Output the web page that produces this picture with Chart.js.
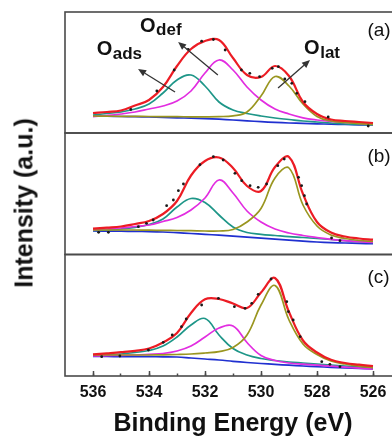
<!DOCTYPE html>
<html>
<head>
<meta charset="utf-8">
<script src="https://cdn.jsdelivr.net/npm/chart.js@4.4.1/dist/chart.umd.min.js"></script>
<style>
  html, body { margin: 0; padding: 0; background: #fff; overflow: hidden; }
  #wrap { position: relative; width: 392px; height: 437px; overflow: hidden; }
  canvas { position: absolute; left: 0; }
  #ylab {
    position: absolute; left: 24px; top: 203px;
    transform: translate(-50%, -50%) rotate(-90deg);
    font: bold 25px 'Liberation Sans', Arial, sans-serif; line-height: 25px;
    white-space: nowrap; color: #111;
  }
</style>
</head>
<body>
<div id="wrap">
  <canvas id="panelA" width="410" height="140" style="top:0px"></canvas>
  <canvas id="panelB" width="410" height="140" style="top:125px"></canvas>
  <canvas id="panelC" width="410" height="191" style="top:246px"></canvas>
  <div id="ylab">Intensity (a.u.)</div>
</div>
<script>
const FONT = "'Liberation Sans', Arial, Helvetica, sans-serif";
const FRAME = '#4a4a4a';

// binding energy grid (eV) shared by every fitted curve
const energy = [536, 535.5, 535, 534.5, 534, 533.5, 533, 532.5, 532, 531.5, 531, 530.5, 530, 529.5, 529, 528.5, 528, 527.5, 527, 526.5, 526];

// panel (a)
const aSum  = [19, 20, 21.5, 26.5, 32, 45, 66, 83, 91, 92, 74, 57, 55, 66, 56, 30, 18, 12.5, 11, 10, 9];
const aAds  = [17, 18.5, 20, 23, 28, 39, 52, 57, 46, 30, 22, 18.5, 16, 14, 12.5, 11, 10, 9, 8, 7.5, 7];
const aDef  = [15.3, 16.5, 18, 20, 23, 26, 31, 41, 59, 72, 62, 45, 32, 23, 18, 14.2, 12, 10.5, 9.5, 8.5, 7.7];
const aLat  = [16, 15.8, 15.7, 15.6, 15.5, 15.4, 15.3, 15.2, 15.2, 15.4, 16.2, 20, 36, 55.5, 46, 28, 15.5, 11, 9.5, 8.3, 7.7];
const aBack = [16, 15.8, 15.5, 15.3, 15, 14.6, 14.2, 13.8, 13.4, 12.8, 12, 11.2, 10.3, 9.6, 9, 8.6, 8.2, 7.8, 7.5, 7.2, 7];
const aRawE = [534.65, 533.72, 533.1, 532.6, 532.12, 531.7, 531.28, 530.7, 530.4, 530.05, 529.6, 529.38, 529.15, 528.9, 528.72, 528.43, 527.6, 526.17];
const aRawI = [22.5, 41, 62, 82.7, 90.8, 92.5, 82, 62, 58.7, 55.3, 63.7, 65.3, 53, 48.7, 38.7, 30.3, 15, 6];

// panel (b)
const bSum  = [25.3, 26.3, 27.5, 30, 33, 40, 53, 78.5, 93, 96.5, 86, 68, 63, 87, 97, 60, 32, 21.5, 17.5, 15.5, 14.3];
const bAds  = [23.5, 24, 25, 26.7, 29.5, 35, 47, 55.5, 51.5, 39, 27, 21.5, 19.7, 18.5, 17.3, 16.5, 15.5, 14.5, 13.3, 12.3, 11.7];
const bDef  = [24, 25, 26, 27.5, 29, 32.5, 36.5, 44, 56, 74, 61, 43, 32, 25, 21, 18.5, 16.5, 14.7, 13.3, 12.3, 11.5];
const bLat  = [24, 24, 24, 24, 23.8, 23.6, 23.5, 23.3, 23, 23, 24.5, 32, 45.5, 76, 86, 49, 28, 19, 15.5, 13.5, 12.7];
const bBack = [23, 22.9, 22.8, 22.6, 22.4, 22, 21.3, 20.5, 19.7, 18.8, 17.8, 16.8, 15.8, 14.8, 13.8, 12.8, 12, 11.4, 11, 10.6, 10.3];
const bRawE = [535.8, 535.45, 534.38, 534.09, 533.85, 533.37, 533.13, 532.95, 532.77, 532.18, 531.7, 531.35, 530.93, 530.69, 530.39, 530.1, 529.8, 529.4, 529.17, 528.66, 528.55, 528.45, 528.37, 527.48, 527.18];
const bRawI = [21.7, 21.7, 27.3, 30.7, 34, 48.3, 54, 63.3, 70, 89.3, 97.3, 94, 80.7, 73.3, 68.3, 66.7, 70, 88.3, 95, 76.7, 68.3, 58.3, 50, 16, 13.3];

// panel (c)
const cSum  = [21.7, 22.7, 23.8, 25.2, 27.5, 33.5, 43, 63, 76.7, 77, 72.5, 68, 83.5, 98, 64, 35.5, 23.5, 16.2, 13, 11.3, 10];
const cAds  = [20.5, 21, 22, 23.5, 25.5, 30, 39, 51, 57.5, 41, 27.5, 21, 17.5, 15.5, 14, 13, 12, 11, 10, 9.2, 8.7];
const cDef  = [20, 20.3, 20.7, 21, 21.7, 22.5, 25, 30, 39, 48, 50, 33.5, 20.5, 15.5, 13, 11.8, 10.8, 9.8, 8.8, 7.8, 7];
const cLat  = [21, 21, 21, 21, 21, 21.2, 21.5, 22, 23, 24.3, 28.5, 41, 71, 90.5, 56, 32, 21.5, 15, 12, 9.8, 8.3];
const cBack = [19.5, 19.5, 19.4, 19.4, 19.3, 19.2, 19, 18, 17, 16, 14.7, 13.5, 12.5, 11.6, 10.8, 10, 9.3, 8.7, 8.2, 7.6, 7.2];
const cRawE = [535.69, 535.04, 534.02, 533.49, 533.17, 532.84, 532.67, 532.12, 531.52, 530.95, 530.57, 530.33, 530.1, 529.64, 529.08, 529.02, 528.85, 528.6, 527.83, 527.54, 527.18];
const cRawI = [19.3, 20, 26, 33.7, 41, 49.3, 57, 71, 77.7, 69.3, 67.7, 72.7, 81.7, 97, 74.3, 64.3, 56, 39.3, 14.3, 11.7, 9.3];

// axis ticks
const xTicks = [536, 534, 532, 530, 528, 526];
const xMinor = [536, 535, 534, 533, 532, 531, 530, 529, 528, 527, 526];

// annotations (panel a), in data units
const labelSub = ['ads', 'def', 'lat'];
const labelE = [535.87, 534.32, 528.46];
const labelI = [77, 100.3, 78];
const arrowFromE = [533.07, 531.54, 529.39];
const arrowFromI = [40, 57, 44];
const arrowToE = [534.39, 532.96, 528.25];
const arrowToI = [63, 90, 72];
const panelTags = ['(a)', '(b)', '(c)'];
const tagE = 526.2;
const tagI = [101, 97, 98];

Chart.defaults.font.family = FONT;
Chart.defaults.color = '#111';

const pts = (xs, ys) => xs.map((x, i) => ({ x: x, y: ys[i] }));

function curve(vals, color, width) {
    return {
        data: pts(energy, vals),
        borderColor: color,
        borderWidth: width,
        pointRadius: 0,
        tension: 0.4,
        fill: false
    };
}

// frame round each panel
const framePlugin = {
    id: 'frame',
    afterDraw(chart) {
        const { ctx, chartArea: a } = chart;
        ctx.save();
        ctx.strokeStyle = FRAME;
        ctx.lineWidth = 1.6;
        ctx.strokeRect(a.left, a.top, a.right - a.left, a.bottom - a.top);
        ctx.restore();
    }
};

// (a) (b) (c) tags
function tagPlugin(idx) {
    return {
        id: 'tag',
        afterDatasetsDraw(chart) {
            const { ctx, scales } = chart;
            ctx.save();
            ctx.font = '19px ' + FONT;
            ctx.fillStyle = '#111';
            ctx.textBaseline = 'middle';
            ctx.fillText(panelTags[idx], scales.x.getPixelForValue(tagE), scales.y.getPixelForValue(tagI[idx]));
            ctx.restore();
        }
    };
}

// O_ads / O_def / O_lat labels with arrows
const peakLabels = {
    id: 'peakLabels',
    afterDatasetsDraw(chart) {
        const { ctx, scales } = chart;
        const px = v => scales.x.getPixelForValue(v);
        const py = v => scales.y.getPixelForValue(v);
        ctx.save();
        ctx.strokeStyle = '#333';
        ctx.fillStyle = '#333';
        ctx.lineWidth = 1.3;
        for (let i = 0; i < arrowFromE.length; i++) {
            const x1 = px(arrowFromE[i]), y1 = py(arrowFromI[i]);
            const x2 = px(arrowToE[i]), y2 = py(arrowToI[i]);
            const ang = Math.atan2(y2 - y1, x2 - x1);
            const hl = 8, hw = 3.5;
            const bx = x2 - hl * Math.cos(ang), by = y2 - hl * Math.sin(ang);
            ctx.beginPath();
            ctx.moveTo(x1, y1);
            ctx.lineTo(bx, by);
            ctx.stroke();
            ctx.beginPath();
            ctx.moveTo(x2, y2);
            ctx.lineTo(bx + hw * Math.sin(ang), by - hw * Math.cos(ang));
            ctx.lineTo(bx - hw * Math.sin(ang), by + hw * Math.cos(ang));
            ctx.closePath();
            ctx.fill();
        }
        ctx.fillStyle = '#111';
        ctx.textBaseline = 'alphabetic';
        for (let i = 0; i < labelSub.length; i++) {
            const x = px(labelE[i]), y = py(labelI[i]);
            ctx.font = 'bold 20px ' + FONT;
            ctx.fillText('O', x, y);
            const w = ctx.measureText('O').width;
            ctx.font = 'bold 17px ' + FONT;
            ctx.fillText(labelSub[i], x + w + 0.5, y + 3.5);
        }
        ctx.restore();
    }
};

function makePanel(id, idx, p) {
    const bottom = idx === 2;
    const scales = {
        x: {
            type: 'linear', min: 525, max: 537, reverse: true,
            display: bottom,
            afterBuildTicks: axis => { axis.ticks = xTicks.map(v => ({ value: v })); },
            ticks: { font: { size: 16, weight: 'bold' }, color: '#111', padding: 12 },
            grid: { drawOnChartArea: false, tickLength: -5, tickColor: FRAME, tickWidth: 1.5 },
            border: { display: false },
            title: {
                display: true, text: 'Binding Energy (eV)', color: '#111',
                font: { size: 25, weight: 'bold', lineHeight: 1 }, padding: 0
            }
        },
        y: { min: p.yMin, max: p.yMax, display: false }
    };
    if (bottom) {
        // fixed height of the bottom axis so the plot frame ends where the reference does
        scales.x.afterFit = axis => { axis.height = 61; };
        scales.x2 = {
            type: 'linear', axis: 'x', position: { y: 0 }, min: 525, max: 537, reverse: true,
            afterBuildTicks: axis => { axis.ticks = xMinor.map(v => ({ value: v })); },
            ticks: { display: false },
            grid: { drawOnChartArea: false, tickLength: -2.5, tickColor: FRAME, tickWidth: 1.5 },
            border: { display: false }
        };
    }
    const plugins = [framePlugin, tagPlugin(idx)];
    if (idx === 0) plugins.push(peakLabels);

    return new Chart(document.getElementById(id), {
        type: 'line',
        data: {
            datasets: [
                {
                    data: pts(p.rawE, p.rawI), showLine: false,
                    pointRadius: 1.4, pointBackgroundColor: '#1a1a1a', pointBorderWidth: 0,
                    borderColor: '#1a1a1a'
                },
                curve(p.sum, '#ec1c24', 2.2),
                curve(p.lat, '#9a9620', 1.7),
                curve(p.def, '#e22de0', 1.7),
                curve(p.ads, '#1e9688', 1.7),
                curve(p.back, '#2030d0', 1.7)
            ]
        },
        options: {
            responsive: false,
            animation: false,
            events: [],
            layout: { padding: p.pad },
            scales: scales,
            plugins: { legend: { display: false }, tooltip: { enabled: false } }
        },
        plugins: plugins
    });
}

makePanel('panelA', 0, {
    sum: aSum, ads: aAds, def: aDef, lat: aLat, back: aBack, rawE: aRawE, rawI: aRawI,
    yMin: -1, yMax: 120, pad: { left: 65, right: 9, top: 12, bottom: 7 }
});
makePanel('panelB', 1, {
    sum: bSum, ads: bAds, def: bDef, lat: bLat, back: bBack, rawE: bRawE, rawI: bRawI,
    yMin: -0.5, yMax: 121, pad: { left: 65, right: 9, top: 8, bottom: 10.5 }
});
makePanel('panelC', 2, {
    sum: cSum, ads: cAds, def: cDef, lat: cLat, back: cBack, rawE: cRawE, rawI: cRawI,
    yMin: 0, yMax: 121.5, pad: { left: 65, right: 9, top: 8.5, bottom: 0 }
});
</script>
</body>
</html>
